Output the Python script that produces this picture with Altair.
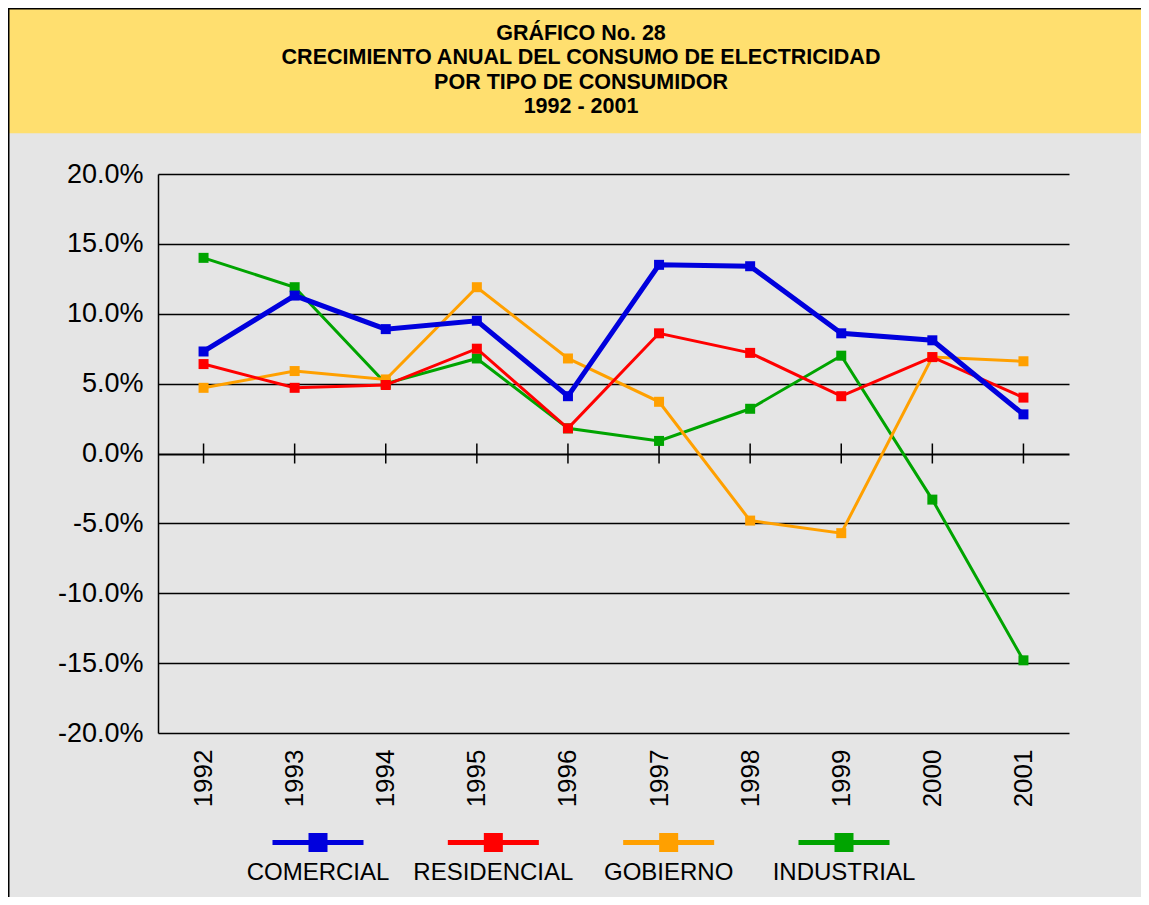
import altair as alt
import pandas as pd

# ---------------- data ----------------
years = ["1992", "1993", "1994", "1995", "1996", "1997", "1998", "1999", "2000", "2001"]
series_names = ["COMERCIAL", "RESIDENCIAL", "GOBIERNO", "INDUSTRIAL"]
comercial = [7.3, 11.3, 8.9, 9.5, 4.1, 13.5, 13.4, 8.6, 8.1, 2.8]
residencial = [6.4, 4.7, 4.9, 7.5, 1.8, 8.6, 7.2, 4.1, 6.9, 4.0]
gobierno = [4.7, 5.9, 5.3, 11.9, 6.8, 3.7, -4.8, -5.7, 6.9, 6.6]
industrial = [14.0, 11.9, 5.0, 6.8, 1.8, 0.9, 3.2, 7.0, -3.3, -14.8]
y_ticks = [-20, -15, -10, -5, 0, 5, 10, 15, 20]
title_lines = [
    "GRÁFICO No. 28",
    "CRECIMIENTO ANUAL DEL CONSUMO DE ELECTRICIDAD",
    "POR TIPO DE CONSUMIDOR",
    "1992 - 2001",
]

# ---------------- styles / layout ----------------
colors = ["#0000dd", "#ff0000", "#ffa000", "#00a400"]
line_widths = [5, 3, 3, 3]
FONT = "Liberation Sans"
W, H = 911, 559
PAD = {"left": 150, "top": 166, "right": 72, "bottom": 164}
BG = "#e5e5e5"
BAND = "#ffdf6f"

xscale = alt.Scale(type="point", domain=years, padding=0.5)
yscale = alt.Scale(domain=[-20, 20], nice=False, zero=False)

xaxis = alt.Axis(
    labelAngle=-90, labelFontSize=26, labelFont=FONT, labelColor="black",
    labelPadding=16, ticks=False, domain=False, grid=False, title=None,
    orient="bottom", labelOverlap=False,
)
yaxis = alt.Axis(
    values=y_ticks,
    labelExpr="(datum.value < 0 ? '-' : '') + format(abs(datum.value), '.1f') + '%'",
    labelFontSize=27, labelFont=FONT, labelColor="black", labelPadding=15,
    ticks=False, domain=True, domainColor="black", domainWidth=1.5,
    grid=True, gridColor="black", gridOpacity=1,
    gridWidth={"condition": {"test": "datum.value === 0", "value": 2.2}, "value": 1.4},
    title=None, labelOverlap=False,
)

X = alt.X("year:O", scale=xscale, axis=xaxis)
Y = alt.Y("value:Q", scale=yscale, axis=yaxis)

one = pd.DataFrame({"k": [0]})

band = alt.Chart(one).mark_rect(fill=BAND, stroke=BAND, strokeWidth=0).encode(
    x=alt.value(-150), x2=alt.value(983), y=alt.value(-166), y2=alt.value(-40.7)
)
border = alt.Chart(one).mark_rule(stroke="black", strokeWidth=1.5).encode(
    x=alt.value(-149.25), y=alt.value(-166), y2=alt.value(723)
)
border_top = alt.Chart(one).mark_rule(stroke="black", strokeWidth=1.5).encode(
    x=alt.value(-150), x2=alt.value(983), y=alt.value(-165.25)
)
title = alt.Chart(pd.DataFrame({"t": ["\n".join(title_lines)]})).mark_text(
    font=FONT, fontSize=21.5, fontWeight="bold", color="black", align="center",
    baseline="alphabetic", lineBreak="\n", lineHeight=24.4,
).encode(x=alt.value(423), y=alt.value(-134), text="t:N")

tick_df = pd.DataFrame({"year": years, "value": [0.0] * len(years)})
ticks = alt.Chart(tick_df).mark_tick(
    color="black", orient="vertical", size=20, thickness=1.5, opacity=1
).encode(x=X, y=Y)

series_values = [comercial, residencial, gobierno, industrial]
layers = [band, border, border_top, title, ticks]
for i in [3, 2, 1, 0]:
    df = pd.DataFrame({"year": years, "value": series_values[i]})
    layers.append(
        alt.Chart(df).mark_line(color=colors[i], strokeWidth=line_widths[i]).encode(x=X, y=Y)
    )
    layers.append(
        alt.Chart(df).mark_square(color=colors[i], size=100, opacity=1, filled=True).encode(x=X, y=Y)
    )
main = alt.layer(*layers)

# ---------------- custom legend (symbol above label) ----------------
leg_df = pd.DataFrame({"series": series_names})
LX = alt.X("series:N", scale=alt.Scale(type="point", domain=series_names, range=[160, 686], padding=0), axis=None)
LC = alt.Color("series:N", scale=alt.Scale(domain=series_names, range=colors), legend=None)
sym_path = "M-4.79,-0.263H4.79V0.263H-4.79Z M-1,-1H1V1H-1Z"
leg_sym = alt.Chart(leg_df).mark_point(shape=sym_path, size=361, filled=True, opacity=1, strokeWidth=0).encode(
    x=LX, y=alt.value(668.5), color=LC
)
leg_txt = alt.Chart(leg_df).mark_text(
    font=FONT, fontSize=24, color="black", align="center", baseline="middle"
).encode(x=LX, y=alt.value(699), text="series:N")
legend = alt.layer(leg_sym, leg_txt)

chart = (
    alt.layer(main, legend)
    .resolve_scale(x="independent", color="independent")
    .properties(
        width=W, height=H, padding=PAD,
        autosize=alt.AutoSizeParams(type="none"),
        background=BG,
    )
    .configure_view(stroke="transparent")
)

chart.save("out.html", embed_options={"renderer": "svg", "actions": False})
